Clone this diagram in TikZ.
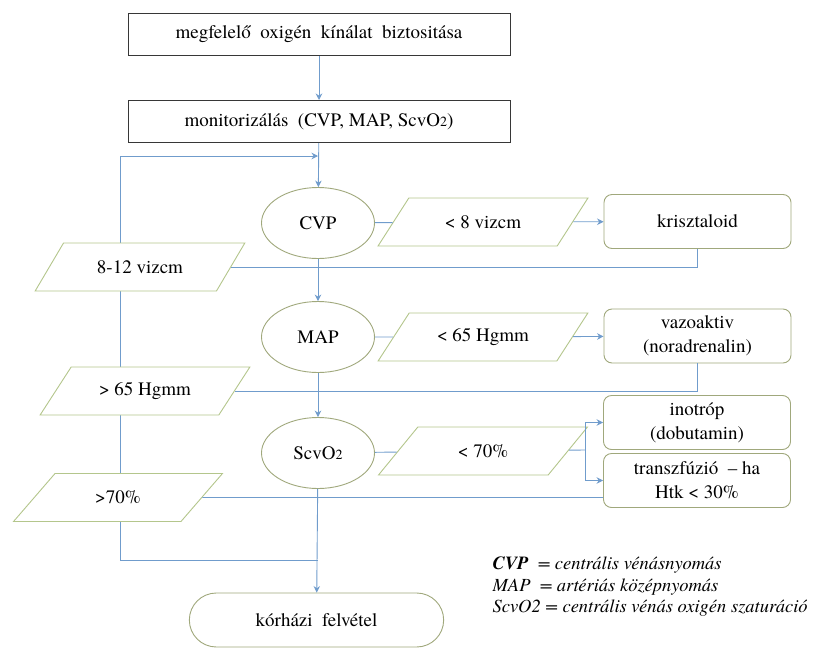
\documentclass[tikz,border=0pt]{standalone}
\usepackage{fontspec}
\setmainfont{texgyretermes}[Extension=.otf,UprightFont=*-regular,
  BoldFont=*-bold,ItalicFont=*-italic,BoldItalicFont=*-bolditalic]
\usepackage{tikz}
\usetikzlibrary{arrows.meta,shapes.geometric,shapes.misc}

\definecolor{vonalszin}{RGB}{112,156,204}
\definecolor{keretszin}{RGB}{55,55,55}
\definecolor{olivszin}{RGB}{160,168,124}
\definecolor{adatszin}{RGB}{180,198,140}

\begin{document}
\begin{tikzpicture}[x=1pt,y=-1pt,>={Stealth[length=6.5pt,width=6.5pt]},
    every node/.style={font=\fontsize{19}{24}\selectfont,align=center},
    doboz/.style={draw=keretszin,fill=white,line width=1pt,
      minimum width=382pt,minimum height=42pt},
    ellipszis/.style={ellipse,draw=olivszin,fill=white,line width=0.9pt,
      minimum width=113pt,minimum height=71pt},
    adat/.style={trapezium,trapezium left angle=49,trapezium right angle=131,
      trapezium stretches=true,draw=adatszin,fill=white,line width=0.9pt,
      minimum width=210pt,minimum height=48pt},
    teendo/.style={rectangle,rounded corners=8pt,draw=olivszin,fill=white,
      line width=0.9pt,minimum width=187pt,minimum height=54pt},
    vonal/.style={draw=vonalszin,line width=0.9pt}]
  \useasboundingbox (0,0) rectangle (827,648);

  % visszacsatolo hurok a bal oldalon (a csomopontok ala)
  \coordinate (hurokfel) at (120,156);
  \coordinate (belep)    at (318,156);
  \coordinate (hurokle)  at (120,560);
  \coordinate (osszefut) at (318,560);
  \coordinate (elagazas) at (585,450);
  \draw[vonal] (hurokfel) -- (hurokle) -- (osszefut);

  % fo oszlop
  \node[doboz] (oxigen)  at (319,34.5)  {megfelelő\ \ oxigén\ \ kínálat\ \ biztositása};
  \node[doboz] (monitor) at (319,121.5) {monitorizálás\ \ (CVP, MAP, ScvO{\fontsize{14}{14}\selectfont 2})};
  \node[ellipszis] (cvp)  at (318,223) {CVP};
  \node[ellipszis] (map)  at (318,337) {MAP};
  \node[ellipszis] (scvo) at (318,453) {ScvO{\fontsize{14}{14}\selectfont 2}};
  \node[rounded rectangle,draw=olivszin,fill=white,line width=0.9pt,
    minimum width=261pt,minimum height=54pt] (korhaz) at (316.5,620) {kórházi\ \ felvétel};

  % jobb oldali ag: alacsony ertekek es teendok
  \node[adat] (kevesviz) at (483,222) {< 8 vizcm};
  \node[adat] (keveshg)  at (483,337) {< 65 Hgmm};
  \node[adat] (kevessat) at (483,451) {< 70\%};
  \node[teendo] (kriszt)  at (697.5,221.5) {krisztaloid};
  \node[teendo] (vazo)    at (697.5,336)   {vazoaktiv\\(noradrenalin)};
  \node[teendo] (inotrop) at (697,422.5)   {inotróp\\(dobutamin)};
  \node[teendo] (transz)  at (697,480.5)   {transzfúzió\ \ – ha\\Htk < 30\%};

  % bal oldali ag: megfelelo ertekek
  \node[adat] (normviz) at (140,267)   {8-12 vizcm};
  \node[adat] (magashg) at (145,391)   {> 65 Hgmm};
  \node[adat] (magas70) at (118,497.5) {>70\%};

  % jelmagyarazat
  \node[anchor=west,align=left,font=\fontsize{18.5}{21.5}\selectfont\itshape]
    (jelmagyarazat) at (489,587)
    {\textbf{CVP}\ \ = centrális vénásnyomás\\
     MAP\ \ = artériás középnyomás\\
     ScvO2 = centrális vénás oxigén szaturáció};

  % osszekotok
  \draw[vonal,->] (oxigen) -- (monitor);
  \draw[vonal,->] (monitor) -- (cvp);
  \draw[vonal,->] (hurokfel) -- (belep);
  \draw[vonal,->] (cvp) -- (map);
  \draw[vonal,->] (map) -- (scvo);
  \draw[vonal,->] (scvo) -- (korhaz);

  \draw[vonal] (cvp) -- (kevesviz);
  \draw[vonal,->] (kevesviz) -- (kriszt);
  \draw[vonal] (kriszt.south) |- (normviz);

  \draw[vonal] (map) -- (keveshg);
  \draw[vonal,->] (keveshg) -- (vazo);
  \draw[vonal] (vazo.south) |- (magashg);

  \draw[vonal] (scvo) -- (kevessat);
  \draw[vonal] (kevessat) -- (elagazas);
  \draw[vonal,->] (elagazas) |- (inotrop);
  \draw[vonal,->] (elagazas) |- (transz);
  \draw[vonal] (magas70) -- (magas70 -| transz.west);
\end{tikzpicture}
\end{document}
